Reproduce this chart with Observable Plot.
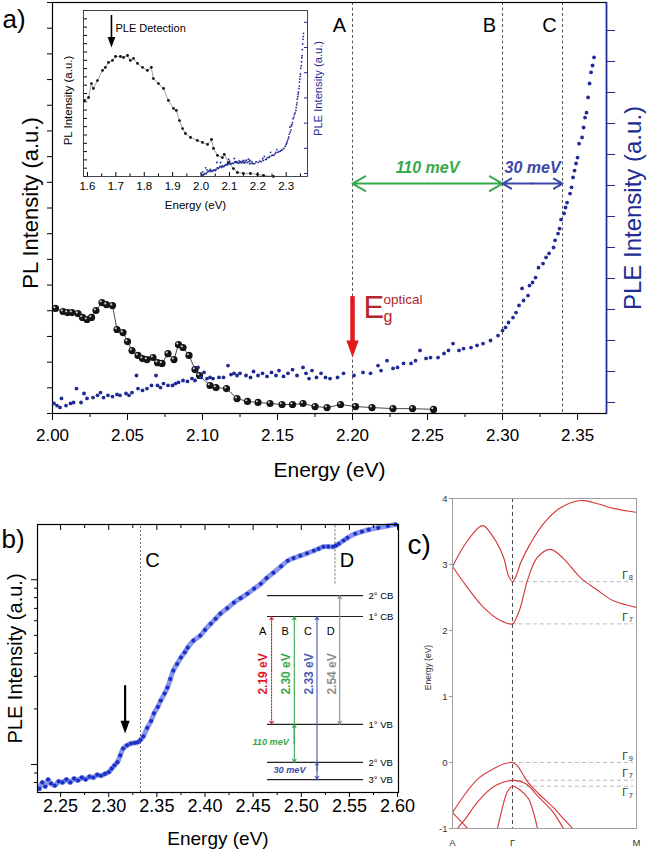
<!DOCTYPE html>
<html><head><meta charset="utf-8">
<script src="https://cdn.jsdelivr.net/npm/d3@7"></script>
<script src="https://cdn.jsdelivr.net/npm/@observablehq/plot@0.6"></script>
<style>
body{margin:0;background:#fff;}
#fig{position:relative;width:647px;height:849px;overflow:hidden;background:#fff;}
</style></head><body><div id="fig"></div>
<script>
// ---------------- DATA ----------------
// Panel a: PL (black spheres) energy [eV], intensity [a.u.]
const plMain = [[2.002,4.09],[2.007,3.97],[2.010,3.93],[2.013,3.93],[2.017,3.89],[2.020,3.74],[2.023,3.66],[2.026,3.74],[2.029,4.01],[2.033,4.32],[2.036,4.24],[2.040,4.20],[2.043,3.27],[2.047,3.15],[2.050,2.80],[2.053,2.45],[2.057,2.26],[2.060,2.14],[2.063,2.10],[2.067,2.18],[2.070,1.98],[2.073,1.95],[2.077,2.33],[2.081,2.10],[2.084,2.68],[2.087,2.57],[2.091,2.26],[2.095,1.71],[2.098,1.48],[2.105,1.09],[2.109,1.01],[2.116,0.97],[2.123,0.58],[2.130,0.47],[2.137,0.43],[2.145,0.39],[2.153,0.35],[2.160,0.35],[2.167,0.39],[2.175,0.27],[2.183,0.23],[2.192,0.35],[2.202,0.27],[2.213,0.23],[2.227,0.19],[2.240,0.19],[2.254,0.16]];
// Panel a: PLE (blue dots) energy [eV], intensity [a.u.]
const pleMain = [[2.001,-0.03],[2.003,-0.10],[2.005,-0.16],[2.006,0.13],[2.009,-0.10],[2.012,-0.03],[2.014,0.00],[2.016,0.45],[2.019,0.00],[2.021,0.29],[2.023,0.13],[2.027,0.16],[2.030,0.23],[2.032,0.32],[2.034,0.16],[2.037,0.23],[2.040,0.19],[2.043,0.26],[2.045,0.23],[2.049,0.29],[2.051,0.23],[2.053,0.32],[2.056,0.87],[2.057,0.45],[2.060,0.39],[2.063,0.45],[2.066,0.55],[2.069,0.87],[2.070,0.55],[2.072,0.48],[2.074,0.61],[2.077,0.55],[2.080,0.55],[2.082,0.61],[2.084,0.65],[2.087,0.71],[2.090,0.68],[2.093,0.77],[2.095,0.71],[2.097,1.13],[2.099,0.81],[2.101,0.97],[2.103,0.77],[2.105,0.81],[2.107,0.77],[2.111,0.81],[2.114,0.81],[2.117,1.19],[2.119,0.90],[2.121,0.94],[2.123,0.87],[2.125,0.94],[2.129,0.87],[2.132,0.81],[2.134,1.00],[2.137,0.87],[2.140,0.94],[2.143,0.84],[2.146,0.97],[2.149,0.87],[2.151,1.03],[2.154,0.84],[2.157,0.94],[2.160,1.06],[2.163,0.87],[2.167,1.13],[2.169,0.94],[2.171,0.77],[2.173,1.03],[2.176,0.81],[2.179,0.94],[2.182,0.81],[2.185,0.77],[2.190,0.81],[2.194,0.94],[2.201,0.87],[2.207,0.97],[2.212,0.94],[2.217,1.19],[2.219,1.03],[2.223,1.35],[2.227,1.10],[2.230,1.13],[2.234,1.26],[2.239,1.26],[2.242,1.35],[2.245,1.68],[2.249,1.42],[2.252,1.45],[2.257,1.45],[2.261,1.58],[2.264,1.68],[2.267,1.90],[2.271,1.68],[2.274,1.74],[2.279,1.77],[2.283,1.84],[2.287,1.90],[2.292,2.00],[2.297,2.16],[2.300,2.32],[2.302,2.42],[2.304,2.58],[2.307,2.74],[2.309,2.90],[2.311,3.13],[2.313,3.68],[2.314,3.29],[2.317,3.45],[2.318,3.77],[2.320,3.87],[2.322,4.03],[2.324,4.35],[2.327,4.48],[2.329,4.68],[2.331,4.81],[2.334,5.00],[2.335,5.23],[2.337,5.45],[2.338,5.61],[2.339,5.90],[2.341,6.10],[2.342,6.29],[2.343,6.45],[2.345,6.74],[2.346,6.94],[2.347,7.26],[2.348,7.48],[2.349,7.71],[2.350,7.90],[2.351,8.35],[2.353,8.55],[2.354,8.87],[2.355,9.19],[2.356,9.35],[2.357,9.84],[2.358,10.29],[2.359,10.65],[2.360,10.87],[2.361,11.13]];
// Inset of panel a: full PL spectrum
const plInset = [[1.589,4.58],[1.604,4.76],[1.614,5.60],[1.621,5.30],[1.635,5.78],[1.653,6.39],[1.663,6.57],[1.674,6.87],[1.688,6.99],[1.699,7.23],[1.716,7.23],[1.727,7.17],[1.741,7.29],[1.751,6.99],[1.762,7.11],[1.776,6.81],[1.794,6.57],[1.811,6.39],[1.825,6.57],[1.832,5.90],[1.850,5.60],[1.868,5.30],[1.885,4.58],[1.903,4.10],[1.913,3.98],[1.924,3.37],[1.935,2.89],[1.945,2.59],[1.963,2.35],[1.987,2.17],[2.005,2.05],[2.023,1.93],[2.037,2.23],[2.044,1.69],[2.058,1.27],[2.075,1.14],[2.082,1.33],[2.096,0.84],[2.114,0.48],[2.128,0.24],[2.149,0.18],[2.174,0.18],[2.199,0.12],[2.220,0.06],[2.255,0.00]];
// Panel b: PLE, energy [eV], intensity [a.u., log axis]
const pleB = [[2.228,74],[2.231,80],[2.234,76],[2.237,83],[2.240,79],[2.244,77],[2.248,81],[2.252,80],[2.256,83],[2.260,80],[2.264,84],[2.268,82],[2.272,85],[2.276,83],[2.280,86],[2.284,85],[2.288,88],[2.292,87],[2.296,89],[2.300,91],[2.303,95],[2.306,99],[2.309,103],[2.312,112],[2.315,122],[2.319,127],[2.323,130],[2.327,131],[2.330,132],[2.333,136],[2.336,142],[2.340,158],[2.344,172],[2.347,189],[2.351,205],[2.354,222],[2.358,242],[2.361,261],[2.364,290],[2.367,322],[2.371,350],[2.375,379],[2.379,405],[2.382,429],[2.388,468],[2.395,498],[2.400,535],[2.406,578],[2.411,615],[2.416,655],[2.423,700],[2.430,751],[2.437,795],[2.444,840],[2.451,895],[2.458,951],[2.464,1020],[2.471,1091],[2.479,1180],[2.486,1267],[2.492,1310],[2.499,1349],[2.506,1390],[2.513,1435],[2.518,1470],[2.523,1508],[2.528,1510],[2.533,1508],[2.536,1530],[2.539,1566],[2.544,1630],[2.548,1687],[2.556,1773],[2.563,1820],[2.570,1865],[2.580,1910],[2.590,1955],[2.598,1990]];
// Panel c: band structure, k-path position (A=0, Γ=1, M=3.067) and energy [eV]
const bandCB1 = [[0,2.97],[0.25,3.36],[0.5,3.59],[0.683,3.41],[0.85,3.11],[0.933,2.83],[1,2.74],[1.067,2.84],[1.133,3.02],[1.3,3.32],[1.517,3.62],[1.8,3.86],[2.133,3.97],[2.417,3.92],[2.683,3.85],[3.067,3.79]];
const bandCB2 = [[0,2.97],[0.25,2.65],[0.517,2.35],[0.8,2.15],[1,2.10],[1.067,2.20],[1.133,2.35],[1.25,2.76],[1.417,3.11],[1.633,3.23],[1.85,3.09],[2.133,2.80],[2.417,2.61],[2.683,2.45],[3.067,2.35]];
const bandV1 = [[0,-0.76],[0.217,-0.47],[0.433,-0.24],[0.717,-0.08],[0.86,-0.02],[1,0],[1.083,-0.05],[1.167,-0.17],[1.25,-0.29],[1.433,-0.47],[1.667,-0.67],[1.85,-0.85],[2.0,-1.0],[2.1,-1.12]];
const bandV2 = [[0,-1.1],[0.083,-1.0],[0.217,-0.85],[0.433,-0.58],[0.717,-0.35],[1,-0.27],[1.217,-0.32],[1.433,-0.52],[1.667,-0.74],[1.85,-1.0],[1.95,-1.15]];
const bandV3 = [[0.72,-1.1],[0.75,-1.0],[0.833,-0.68],[0.917,-0.44],[1,-0.36],[1.117,-0.41],[1.267,-0.55],[1.35,-0.76],[1.417,-1.0],[1.44,-1.1]];
const bandV4 = [[0,-0.76],[0.25,-1.0],[0.3,-1.06]];
const kNames = ["A","Γ","M"];
const kPos = [0, 1, 3.067];
const gammaE = [2.74, 2.10, 0, -0.27, -0.36];
const gammaSub = ["8","7","9","7","7"];
// Ticks and annotation values
const aTicks = [2.00,2.05,2.10,2.15,2.20,2.25,2.30,2.35];
const aMinor = [2.025,2.075,2.125,2.175,2.225,2.275,2.325];
const insetTicks = [1.6,1.7,1.8,1.9,2.0,2.1,2.2,2.3];
const insetMinor = [1.65,1.75,1.85,1.95,2.05,2.15,2.25,2.35];
const bTicks = [2.25,2.30,2.35,2.40,2.45,2.50,2.55,2.60];
const bMinor = [2.275,2.325,2.375,2.425,2.475,2.525,2.575];
const bLogMajor = [100, 1000];
const bLogMinor = [80,90,200,300,400,500,600,700,800,900];
const cTicks = [-1,0,1,2,3,4];
const markerE = [2.20, 2.30, 2.34];
const markerNames = ["A","B","C"];
const splits = [{from:2.20, to:2.30, label:"110 meV"}, {from:2.30, to:2.34, label:"30 meV"}];
const egArrow = [{e:2.20, from:4.55, to:2.18}];
const detection = [{e:1.6845, from:9.7, to:7.77}];
const bArrow = [{e:2.317, from:267, to:147}];
const bMarkers = [{e:2.333, name:"C", from:70.6}, {e:2.535, name:"D", from:950}];
// Schematic level diagram (panel b)
const diagLevels = ["2° CB","1° CB","1° VB","2° VB","3° VB"];
const diagLevelE = [4.39, 3.84, 1.0, 0.0, -0.45];
const diagNames = ["A","B","C","D"];
const diagLabels = ["2.19 eV","2.30 eV","2.33 eV","2.54 eV"];
const diagLow = ["1° VB","2° VB","3° VB","1° VB"];
const diagHigh = ["1° CB","1° CB","1° CB","2° CB"];

// ---------------- STYLE ----------------
const FONT = '"Liberation Sans", Arial, Helvetica, sans-serif';
const GREEN = "#36a94a", NAVY = "#3a48a6", RED = "#e3181d", DARKRED = "#b3262b";
const PLE = "#212b94", BBLUE = "#1b32c8", BAND = "#d6393b";
const fig = document.getElementById("fig");
function place(svg, left, top) {
  svg.style.position = "absolute";
  svg.style.left = left + "px";
  svg.style.top = top + "px";
  svg.style.background = "transparent";
  svg.style.overflow = "visible";
  svg.style.maxWidth = "none";
  svg.style.fontFamily = FONT;
  fig.appendChild(svg);
}
const downTri = {draw(ctx, size) { const s = Math.sqrt(size); const w = 0.36*s, h = s; ctx.moveTo(-w, -h/2); ctx.lineTo(w, -h/2); ctx.lineTo(0, h/2); ctx.closePath(); }};
const X = d => d[0], Y = d => d[1];
const blank = () => "";

// ---------------- PANEL A ----------------
const aDomain = [2.0, 2.3693];
const A = {width:647, height:480, marginLeft:52, marginRight:41, marginTop:2, marginBottom:67};
const panelA = Plot.plot({
  ...A,
  x: {domain: aDomain, label: null},
  y: {domain: [0, 16], label: null},
  marks: [
    Plot.ruleX(markerE, {stroke:"#444", strokeWidth:0.9, strokeDasharray:"3,2.5"}),
    Plot.text(markerNames, {x: (d,i) => markerE[i], frameAnchor:"top", dx:-13, dy:23, fontSize:20, lineAnchor:"middle"}),
    Plot.line(plMain, {x:X, y:Y, stroke:"#333", strokeWidth:0.9}),
    Plot.dot(plMain, {x:X, y:Y, r:3.6, fill:"#141414"}),
    Plot.dot(plMain, {x:X, y:Y, r:1.1, fill:"#cfcfcf", dx:-1.2, dy:-1.2}),
    ...splits.map((s, i) => [
      Plot.arrow([s, s], {x1: d => (s.from + s.to)/2, x2: (d, j) => j ? s.to : s.from, y1: 8.95, y2: 8.95,
        stroke: i ? NAVY : GREEN, strokeWidth: 2, headLength: 11, headAngle: 60}),
      Plot.text([s.label], {x: (s.from + s.to)/2, y: 9.55, fill: i ? NAVY : GREEN, fontSize: 16, fontWeight:"bold", fontStyle:"italic", lineAnchor:"middle"})
    ]).flat(),
    Plot.ruleX(egArrow, {x:"e", y1:"from", y2:"to", stroke:RED, strokeWidth:4.5, insetBottom:12}),
    Plot.dot(egArrow, {x:"e", y:"to", symbol:downTri, r:9.6, fill:RED, dy:-8.5}),
    Plot.text(["E"], {x:2.20, y:3.70, dx:11, fontSize:31, fill:DARKRED, textAnchor:"start", lineAnchor:"bottom"}),
    Plot.text(["optical"], {x:2.20, y:3.70, dx:31, dy:-14, fontSize:13.5, fill:DARKRED, textAnchor:"start", lineAnchor:"bottom"}),
    Plot.text(["g"], {x:2.20, y:3.70, dx:31, dy:4, fontSize:16, fill:DARKRED, textAnchor:"start", lineAnchor:"bottom"}),
    Plot.axisY({ticks: d3.range(0, 17), tickSize:5, tickFormat: blank, label:null}),
    Plot.axisX({ticks: aTicks, tickSize:7, tickFormat: blank, label:null}),
    Plot.axisX({ticks: aMinor, tickSize:4, tickFormat: blank, label:null}),
    Plot.axisX({ticks: aTicks, tickSize:0, tickPadding:15, tickFormat: d => d.toFixed(2), fontSize:17, label:null}),
    Plot.frame({stroke:"#000", strokeWidth:1.2}),
    Plot.text(["PL Intensity (a.u.)"], {frameAnchor:"left", rotate:-90, dx:-22, dy:-5, fontSize:22, textAnchor:"middle", lineAnchor:"middle"}),
    Plot.text(["Energy (eV)"], {frameAnchor:"bottom", dy:57, fontSize:21, lineAnchor:"middle"}),
    Plot.text(["a)"], {frameAnchor:"top-left", dx:-50, dy:17, fontSize:26, textAnchor:"start", lineAnchor:"middle"})
  ]
});
place(panelA, 0, 0);

const panelAple = Plot.plot({
  ...A,
  x: {domain: aDomain, label: null, axis: null},
  y: {domain: [-0.355, 12.903], label: null, axis: null},
  marks: [
    Plot.dot(pleMain, {x:X, y:Y, r:1.9, fill:PLE}),
    Plot.ruleX([aDomain[1]], {stroke:PLE, strokeWidth:1.6}),
    Plot.axisY({anchor:"right", ticks: d3.range(0, 13), tickSize:8, tickFormat: blank, stroke:PLE, label:null}),
    Plot.text(["PLE Intensity (a.u.)"], {frameAnchor:"right", rotate:-90, dx:27, fontSize:24, fill:PLE, textAnchor:"middle", lineAnchor:"middle"})
  ]
});
place(panelAple, 0, 0);

// Inset
const I = {width:340, height:215, marginLeft:83, marginRight:33, marginTop:10, marginBottom:39};
const insetDomain = [1.586, 2.375];
const inset = Plot.plot({
  ...I,
  x: {domain: insetDomain, label:null},
  y: {domain: [0, 10], label:null},
  marks: [
    Plot.line(plInset, {x:X, y:Y, stroke:"#888", strokeWidth:0.8}),
    Plot.dot(plInset, {x:X, y:Y, r:1.4, fill:"#111"}),
    Plot.ruleX(detection, {x:"e", y1:"from", y2:"to", stroke:"#000", strokeWidth:1.6, insetBottom:8}),
    Plot.dot(detection, {x:"e", y:"to", symbol:downTri, r:6, fill:"#000", dy:-5.3}),
    Plot.text(["PLE Detection"], {x:detection[0].e, y:9.7, dx:4, dy:17, fontSize:11, textAnchor:"start", lineAnchor:"bottom"}),
    Plot.axisX({ticks: insetTicks, tickSize:-4, tickFormat: blank, label:null}),
    Plot.axisX({ticks: insetMinor, tickSize:-2.5, tickFormat: blank, label:null}),
    Plot.axisX({ticks: insetTicks, tickSize:0, tickPadding:5, tickFormat: d => d.toFixed(1), fontSize:11.5, label:null}),
    Plot.axisY({ticks: d3.range(0, 10.01, 0.5), tickSize:-4, tickFormat: blank, label:null}),
    Plot.frame({stroke:"#333", strokeWidth:0.9}),
    Plot.text(["PL Intensity (a.u.)"], {frameAnchor:"left", rotate:-90, dx:-15, dy:7, fontSize:11.5, textAnchor:"middle", lineAnchor:"middle"}),
    Plot.text(["Energy (eV)"], {frameAnchor:"bottom", dy:29, fontSize:11.5, lineAnchor:"middle"})
  ]
});
place(inset, 0, 0);
const insetPle = Plot.plot({
  ...I,
  x: {domain: insetDomain, label:null, axis:null},
  y: {domain: [-0.24, 12.94], label:null, axis:null},
  marks: [
    Plot.dot(pleMain, {x:X, y:Y, r:0.9, fill:PLE}),
    Plot.axisY({anchor:"right", ticks: [0,2,4,6,8,10,12], tickSize:-4, tickFormat: blank, stroke:PLE, label:null}),
    Plot.text(["PLE Intensity (a.u.)"], {frameAnchor:"right", rotate:-90, dx:11, dy:-5, fontSize:11.2, fill:PLE, textAnchor:"middle", lineAnchor:"middle"})
  ]
});
place(insetPle, 0, 0);

// ---------------- PANEL B ----------------
const B = {width:410, height:369, marginLeft:37, marginRight:12, marginTop:44, marginBottom:57};
const bYDomain = [70.6, 1990];
const bDomain = [2.226, 2.601];
const panelB = Plot.plot({
  ...B,
  x: {domain: bDomain, label:null},
  y: {type:"log", domain: bYDomain, label:null},
  marks: [
    Plot.ruleX(bMarkers, {x:"e", y1:"from", y2: bYDomain[1], stroke:"#555", strokeWidth:0.9, strokeDasharray:"2,2"}),
    Plot.text(bMarkers, {x:"e", text:"name", frameAnchor:"top", dx:12, dy:36, fontSize:20, lineAnchor:"middle"}),
    Plot.line(pleB, {x:X, y:Y, stroke:"#2a42d6", strokeWidth:5, strokeOpacity:0.55, curve:"catmull-rom"}),
    Plot.dot(pleB, {x:X, y:Y, r:2.1, fill:BBLUE}),
    Plot.ruleX(bArrow, {x:"e", y1:"from", y2:"to", stroke:"#000", strokeWidth:2.2, insetBottom:9}),
    Plot.dot(bArrow, {x:"e", y:"to", symbol:downTri, r:7.2, fill:"#000", dy:-6.4}),
    Plot.axisX({ticks: bTicks, tickSize:5, tickFormat: blank, label:null}),
    Plot.axisX({ticks: bMinor, tickSize:3, tickFormat: blank, label:null}),
    Plot.axisX({anchor:"top", ticks: bTicks, tickSize:-5, tickFormat: blank, label:null}),
    Plot.axisX({anchor:"top", ticks: bMinor, tickSize:-3, tickFormat: blank, label:null}),
    Plot.axisX({ticks: bTicks, tickSize:0, tickPadding:7, tickFormat: d => d.toFixed(2), fontSize:18, label:null}),
    Plot.axisY({ticks: bLogMajor, tickSize:6, tickFormat: blank, label:null}),
    Plot.axisY({ticks: bLogMinor, tickSize:3, tickFormat: blank, label:null}),
    Plot.frame({stroke:"#000", strokeWidth:1.2}),
    Plot.text(["PLE Intensity (a.u.)"], {frameAnchor:"left", rotate:-90, dx:-22, fontSize:20, textAnchor:"middle", lineAnchor:"middle"}),
    Plot.text(["Energy (eV)"], {frameAnchor:"bottom", dy:46, fontSize:19, lineAnchor:"middle"}),
    Plot.text(["b)"], {frameAnchor:"top-left", dx:-36, dy:23, fontSize:26, textAnchor:"start", lineAnchor:"bottom"})
  ]
});
place(panelB, 0, 480);

// Level diagram overlay
const levelOf = n => diagLevelE[diagLevels.indexOf(n)];
const diagColors = [RED, GREEN, "#4d5bb2", "#8d8d8d"];
const trans = diagNames.map((n, i) => ({col:i, lo:levelOf(diagLow[i]), hi:levelOf(diagHigh[i]), name:n, label:diagLabels[i]}));
const diagMarks = [];
trans.forEach((t, i) => {
  const mid = (t.lo + t.hi) / 2;
  diagMarks.push(Plot.arrow([t.lo, t.hi], {x1: t.col, x2: t.col, y1: mid, y2: d => d,
    stroke: diagColors[i], strokeWidth: 1.1, headLength: 5, headAngle: 55, strokeDasharray: i === 0 ? "1.6,1.4" : null}));
  diagMarks.push(Plot.text([t.label], {x: t.col, y: 2.33, dx: -8, rotate: -90, fill: diagColors[i], fontSize: 12, fontWeight: "bold", textAnchor: "middle", lineAnchor: "middle"}));
  diagMarks.push(Plot.text([t.name], {x: t.col, y: 3.45, dx: -9, fontSize: 11, lineAnchor: "middle"}));
});
const diagram = Plot.plot({
  ...B,
  x: {domain: [-10.31, 5.59], axis:null, label:null},
  y: {domain: [-0.79, 6.26], axis:null, label:null},
  marks: [
    Plot.ruleY(diagLevelE, {x1:-0.18, x2:4.05, stroke:"#222", strokeWidth:1.2}),
    Plot.text(diagLevels, {x:4.05, y:(d,i) => diagLevelE[i], dx:5, fontSize:9.5, textAnchor:"start", lineAnchor:"middle"}),
    ...diagMarks,
    Plot.arrow([0], {x1:1, x2:1, y1:0.5, y2:levelOf("1° VB"), stroke:GREEN, strokeWidth:1.1, headLength:5, headAngle:55}),
    Plot.arrow([0], {x1:2, x2:2, y1:-0.22, y2:levelOf("2° VB"), stroke:"#4d5bb2", strokeWidth:1.1, headLength:5, headAngle:55}),
    Plot.text(["110 meV"], {x:-0.04, y:0.53, fill:GREEN, fontSize:9.2, fontWeight:"bold", fontStyle:"italic", lineAnchor:"middle"}),
    Plot.text(["30 meV"], {x:0.79, y:-0.21, fill:NAVY, fontSize:9.2, fontWeight:"bold", fontStyle:"italic", lineAnchor:"middle"})
  ]
});
place(diagram, 0, 480);

// ---------------- PANEL C ----------------
const C = {width:247, height:369, marginLeft:52, marginRight:11, marginTop:18, marginBottom:21};
const cDomain = [0, 3.067];
const bands = [bandCB1, bandCB2, bandV1, bandV2, bandV3, bandV4];
const above = (d, i) => i < 4, below = (d, i) => i === 4;
const panelC = Plot.plot({
  ...C,
  x: {domain: cDomain, label:null, axis:null},
  y: {domain: [-1, 4], label:null},
  marks: [
    Plot.ruleY(gammaE, {x1: kPos[1], x2: 3.02, stroke:"#b5b5b5", strokeWidth:0.9, strokeDasharray:"4,3"}),
    Plot.ruleX([kPos[1]], {stroke:"#333", strokeWidth:0.9, strokeDasharray:"4,3"}),
    ...bands.map(b => Plot.line(b, {x:X, y:Y, stroke:BAND, strokeWidth:1.15, curve:"catmull-rom", clip:true})),
    Plot.text(gammaE, {x:2.83, y:d => d, text: () => "Γ", dy:-3, fontSize:10.5, textAnchor:"start", lineAnchor:"bottom", fill:"#333", filter: above}),
    Plot.text(gammaE, {x:2.83, y:d => d, text: (d, i) => gammaSub[i], dx:6.5, dy:-2, fontSize:7.5, textAnchor:"start", lineAnchor:"bottom", fill:"#333", filter: above}),
    Plot.text(gammaE, {x:2.83, y:d => d, text: () => "Γ", dy:2, fontSize:10.5, textAnchor:"start", lineAnchor:"top", fill:"#333", filter: below}),
    Plot.text(gammaE, {x:2.83, y:d => d, text: (d, i) => gammaSub[i], dx:6.5, dy:6, fontSize:7.5, textAnchor:"start", lineAnchor:"top", fill:"#333", filter: below}),
    Plot.axisY({ticks: cTicks, tickSize:3, tickPadding:2, tickFormat: d => String(d), fontSize:9.5, stroke:"#999", fill:"#333", label:null}),
    Plot.frame({stroke:"#a0a0a0", strokeWidth:1}),
    Plot.text(kNames, {x:(d, i) => kPos[i], frameAnchor:"bottom", dy:14, fontSize:9.5, fill:"#333", lineAnchor:"middle"}),
    Plot.text(["Energy (eV)"], {frameAnchor:"left", rotate:-90, dx:-24, dy:4, fontSize:8.5, fill:"#333", textAnchor:"middle", lineAnchor:"middle"}),
    Plot.text(["c)"], {frameAnchor:"top-left", dx:-45, dy:55, fontSize:28, textAnchor:"start", lineAnchor:"bottom"})
  ]
});
place(panelC, 400, 480);
</script></body></html>
